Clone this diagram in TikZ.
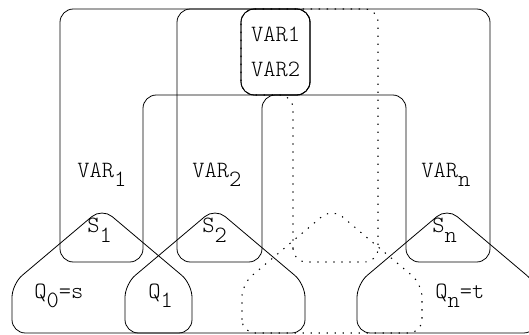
\documentclass[tikz,border=0pt]{standalone}
\usepackage{fontspec}
\setmonofont{Latin Modern Mono Light}
\newcommand{\lowsub}[1]{\raisebox{-0.42em}{#1}}
\begin{document}
\begin{tikzpicture}[x=0.75pt,y=0.75pt,yscale=-1,xscale=1,
  region/.style={line width=0.6pt, rounded corners=10pt},
  hidden/.style={region, line width=0.8pt, dash pattern=on 1pt off 5pt},
  lbl/.style={anchor=base west, inner sep=0pt, font=\ttfamily\fontsize{17.5}{19}\selectfont}]
\useasboundingbox (0,0) rectangle (529,335);
\clip (0,0) rectangle (529,335);
%Shape: Region VAR_1
\draw [region] (143,262) -- (143,95) -- (310,95) -- (310,9) -- (60,9) -- (60,262) -- cycle ;
%Shape: Region VAR_2
\draw [region] (262,262) -- (262,95) -- (310,95) -- (310,9) -- (177,9) -- (177,262) -- cycle ;
%Shape: Region VAR_3 (hidden)
\draw [hidden] (293,262) -- (293,95) -- (241,95) -- (241,9) -- (378,9) -- (378,262) -- cycle ;
%Shape: Region VAR_n
\draw [region] (406,262) -- (406,95) -- (241,95) -- (241,9) -- (490,9) -- (490,262) -- cycle ;
%Rounded Rect: common part
\draw [region] (241,9) rectangle (310,95) ;
%Shape: Houses Q_0, Q_1, Q_n
\foreach \cx in {102,215,447}
  \draw [region] (\cx-90,333) -- (\cx-90,284) -- (\cx,208) -- (\cx+90,284) -- (\cx+90,333) -- cycle ;
%Shape: House Q_2 (hidden)
\draw [hidden] (242,333) -- (242,284) -- (332,208) -- (422,284) -- (422,333) -- cycle ;
%Texts
\node (v1) [lbl, anchor=base] at (275.5,42) {VAR1};
\node (v2) [lbl, anchor=base] at (275.5,77) {VAR2};
\node (var1) [lbl] at (77,177) {VAR\lowsub{1}};
\node (var2) [lbl] at (192,177) {VAR\lowsub{2}};
\node (varn) [lbl] at (421,177) {VAR\lowsub{n}};
\node (s1) [lbl] at (87,233) {S\lowsub{1}};
\node (s2) [lbl] at (202,233) {S\lowsub{2}};
\node (sn) [lbl] at (432,233) {S\lowsub{n}};
\node (q0) [lbl] at (34,298) {Q\lowsub{0}=s};
\node (q1) [lbl] at (148,298) {Q\lowsub{1}};
\node (qn) [lbl] at (435,298) {Q\lowsub{n}=t};
\end{tikzpicture}
\end{document}
